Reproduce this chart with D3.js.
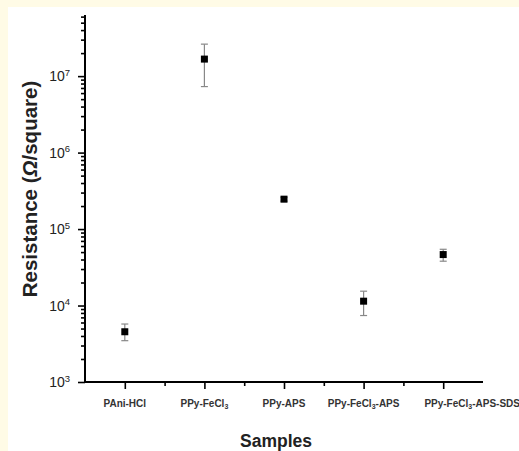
<!DOCTYPE html>
<html>
<head>
<meta charset="utf-8">
<script src="https://cdn.jsdelivr.net/npm/d3@7"></script>
<style>
  body { margin: 0; background: #fffbe6; }
  svg { display: block; }
</style>
</head>
<body>
<div id="chart"></div>
<script>
// samples (x categories) and measured sheet resistance
var categories = ["PAni-HCl", "PPy-FeCl3", "PPy-APS", "PPy-FeCl3-APS", "PPy-FeCl3-APS-SDS"];
var resistance = [4540, 1.67e7, 2.46e5, 1.14e4, 4.64e4];
var errLow  = [3470, 7.3e6, 2.32e5, 7400, 3.8e4];
var errHigh = [5730, 2.62e7, 2.6e5, 1.54e4, 5.44e4];
var majorTicks = [1e3, 1e4, 1e5, 1e6, 1e7];

var width = 519, height = 451;
var font = "Arial, 'Liberation Sans', sans-serif";

var svg = d3.select('#chart').append('svg')
  .attr("width", width)
  .attr("height", height);

// cream frame, white plot card
svg.append('rect')
  .attr("x", 8).attr("y", 7)
  .attr("width", width - 8).attr("height", height - 7)
  .attr("fill", "#fff");

var x = d3.scaleLinear().domain([0.5, categories.length + 0.5]).range([85, 483]);
var y = d3.scaleLog().domain([1e3, 6.3e7]).range([382, 15]);

// minor ticks 2..9 for each decade
var minorTicks = [];
majorTicks.forEach(function(m){
  for (var k = 2; k <= 9; k++) {
    if (m * k <= y.domain()[1]) minorTicks.push(m * k);
  }
});

// y axis
var yMinor = svg.append('g')
  .attr("transform", "translate(85,0)")
  .call(d3.axisLeft(y).tickValues(minorTicks).tickSize(4).tickFormat(""));
var yMajor = svg.append('g')
  .attr("transform", "translate(85,0)")
  .call(d3.axisLeft(y).tickValues(majorTicks).tickSize(7).tickFormat(""));
yMajor.select('.domain').remove();
yMinor.select('.domain')
  .attr("stroke-width", 2)
  .attr("d", "M0," + y.range()[1] + "V" + y.range()[0]);

var yLab = svg.append('g').selectAll('text')
  .data(majorTicks)
  .enter()
  .append('text')
  .attr("x", 70)
  .attr("y", function(d){ return y(d) + 5; })
  .attr("text-anchor", "end")
  .attr("font-family", font)
  .attr("font-size", "14px")
  .attr("fill", "#222");
yLab.append('tspan').text("10");
yLab.append('tspan')
  .attr("dy", "-0.55em")
  .attr("font-size", "9.5px")
  .text(function(d){ return Math.round(Math.log10(d)); });

// x axis
var catTicks = categories.map(function(c, i){ return i + 1; });
var midTicks = categories.slice(1).map(function(c, i){ return i + 1.5; });
var xMinor = svg.append('g')
  .attr("transform", "translate(0,382)")
  .call(d3.axisBottom(x).tickValues(midTicks).tickSize(4).tickFormat(""));
var xMajor = svg.append('g')
  .attr("transform", "translate(0,382)")
  .call(d3.axisBottom(x).tickValues(catTicks).tickSize(7).tickFormat(""));
xMajor.select('.domain').remove();
xMinor.select('.domain')
  .attr("stroke-width", 2)
  .attr("d", "M" + x.range()[0] + ",0H" + x.range()[1]);
svg.selectAll('.tick line').attr("stroke", "#000").attr("stroke-width", 1.6);

// category labels, "Cl3" gets a subscript 3
var xLab = svg.append('g').selectAll('text')
  .data(categories)
  .enter()
  .append('text')
  .attr("x", function(d, i){ return x(i + 1) + (i == categories.length - 1 ? 29 : 0); })
  .attr("y", 407)
  .attr("text-anchor", "middle")
  .attr("font-family", font)
  .attr("font-size", "10px")
  .attr("font-weight", "bold")
  .attr("fill", "#333");
xLab.each(function(d){
  var t = d3.select(this);
  var parts = d.split("Cl3");
  parts.forEach(function(p, j){
    if (j > 0) {
      t.append('tspan').text("Cl");
      t.append('tspan').attr("font-size", "7px").attr("dy", "0.35em").text("3");
      t.append('tspan').attr("dy", "-0.25em").text(p);
    } else {
      t.append('tspan').text(p);
    }
  });
});

// error bars
var points = svg.append('g').selectAll('g')
  .data(resistance)
  .enter()
  .append('g');

points.append('line')
  .attr("x1", function(d, i){ return x(i + 1); })
  .attr("x2", function(d, i){ return x(i + 1); })
  .attr("y1", function(d, i){ return y(errLow[i]); })
  .attr("y2", function(d, i){ return y(errHigh[i]); })
  .attr("stroke", "#888")
  .attr("stroke-width", 1.2);
[errLow, errHigh].forEach(function(arr){
  points.append('line')
    .attr("x1", function(d, i){ return x(i + 1) - 3.5; })
    .attr("x2", function(d, i){ return x(i + 1) + 3.5; })
    .attr("y1", function(d, i){ return y(arr[i]); })
    .attr("y2", function(d, i){ return y(arr[i]); })
    .attr("stroke", "#888")
    .attr("stroke-width", 1.2);
});

// square markers
points.append('rect')
  .attr("x", function(d, i){ return x(i + 1) - 3.5; })
  .attr("y", function(d){ return y(d) - 3.5; })
  .attr("width", 7)
  .attr("height", 7)
  .attr("fill", "#000");

// axis titles
svg.append('text')
  .attr("x", 276)
  .attr("y", 447)
  .attr("text-anchor", "middle")
  .attr("font-family", font)
  .attr("font-size", "17.5px")
  .attr("font-weight", "bold")
  .attr("fill", "#222")
  .text("Samples");

var yt = svg.append('text')
  .attr("transform", "translate(37,189) rotate(-90)")
  .attr("text-anchor", "middle")
  .attr("font-family", font)
  .attr("font-size", "20.5px")
  .attr("font-weight", "bold")
  .attr("fill", "#222");
yt.append('tspan').text("Resistance (");
yt.append('tspan').attr("font-style", "italic").text("Ω");
yt.append('tspan').text("/square)");
</script>
</body>
</html>
